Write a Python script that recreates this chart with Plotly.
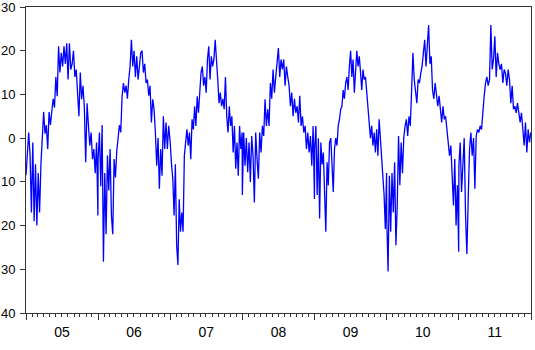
import numpy as np
import pandas as pd
import plotly.graph_objects as go

years = [2005, 2006, 2007, 2008, 2009, 2010, 2011]
year_labels = ["05", "06", "07", "08", "09", "10", "11"]

y_tick_values = [-40, -30, -20, -10, 0, 10, 20, 30]
y_tick_text = ["40", "30", "20", "10", "0", "10", "20", "30"]

t2005 = [-8.5, -3, 1.3, -4, -17, -1, -19, -6, -20, -8, -17, -6, -1, 6, 1, 3, -2.5, 6, 3, 6.6,
         9, 7, 14, 9.6, 21, 15, 19.5, 16.4, 21, 17, 21.7, 13.4, 21.7, 15.7, 17, 20, 14, 15.7, 8.9, 5,
         15, 8.9, 12, 7, -5.5, 8, 3, -1.7, 1.3, -4.8, -2.5, -8, -1, -17.7]
t2006 = [-4.8, 1.3, -11, 3, -28.3, -8, -22, -4, -12, -2.5, -17.7, -22, -4.8, -9, -3, 0, 3, 1.3, 9.6, 12.6,
         10.4, 12, 9, 13.4, 16.4, 22.5, 16.4, 20, 14, 18.7, 13.4, 16.4, 19.5, 20, 15, 17, 12.6, 13.4, 9.7, 12,
         3.6, 8.9, 6.6, 1.3, -6.3, 0, -11.6, -2.5, -8.6, 5, -2.5, 3.6, -2.5, 2.8, 0]
t2007 = [-1, -6, -9.3, -17.7, -6, -24.5, -29, -14, -21.4, -17, -21.4, -4, 0, 2, -1.7, 1.3, -4.8, 4.3, 2, 7.3,
         2.8, 9.6, 5.8, 11, 15, 16.4, 12, 14, 10.4, 18, 21, 13.4, 18.7, 16.4, 18, 22.5, 16.4, 13.4, 8, 10.4,
         7.3, 9, 6.6, 14, 5, 1.3, 7.3, 2.8, 5, -3.3, 2.8, -7, -1, -8.6, 2.8, -2.5, 1.3]
t2008 = [-13, 1.3, -6.3, 0, -7.8, -1, -10, 0.5, -4, -14.7, 1.3, -4.8, -9.3, 1.3, -3.3, 2.8, 0.5, 8.9, 2.8, 6.6,
         2.8, 12.6, 9, 15.7, 10.4, 14, 18, 20.6, 14, 18, 15.7, 18, 12, 16.4, 14, 12, 7.3, 10.4, 5, 9,
         5.8, 7.3, 3.6, 9.7, 2.8, 5, 1.3, 2.8, -2.5, 1.3, -3.3, 0.5, -6.3, 2.8, -13.9]
t2009 = [-2.5, 2.8, -13, 0, -18.4, -1, -6, -3.3, -13.9, -21.4, -5.5, -10.8, -1, 0, -6, -12.3, -2.5, 0, -1.7, 2.8,
         4.3, 6.6, 7.3, 11, 9, 12.6, 14, 11, 16.4, 20, 14, 18, 10.4, 17, 20, 16.4, 18.7, 15, 11, 15.7,
         13.4, 14, 10.4, 7.3, 3.6, 0, 2.8, -1.7, 1.3, -3.3, 2, -4, 4.3, 0, -5.5, -8, -13, -20.8, -8]
t2010 = [-18.4, -30.5, -8.6, -21.4, -8, -17, -5.5, -24.5, -15.4, 0.5, -10.8, -1, -8, 0, 2.8, 4.3, 0.5, 5, 2.8, 9.7,
         19.5, 13.4, 11, 8, 13.4, 12.6, 14.8, 16.4, 19.5, 22.5, 16.4, 21, 25.9, 17, 18.7, 11, 9, 12.6, 10.4, 7.3,
         9.7, 5.8, 3.6, 7.3, 4.3, 5, 1.3, -1, -4, -1.7, -9.3, -15.4, -4.8, -20, -10.8, -26]
t2011 = [-6.3, -1, -12.3, -4.8, 0, -17.7, -26.5, -13.9, -2.5, 1.3, -4, 0, -11.6, 0.5, 2, 1.3, 2.8, 2, 6.6, 9.7,
         12.6, 14, 12, 13.4, 25.9, 15.7, 18, 23.3, 14, 19.5, 17, 15.7, 17, 12.6, 15.7, 14.8, 12, 15.7, 13.4, 8,
         12, 6.6, 7.3, 5.8, 8, 5, 3.6, 5.8, 1.3, -1.7, 3.6, -3.3, 2, -1, 1.3]

series = [t2005, t2006, t2007, t2008, t2009, t2010, t2011]

dates = []
values = []
for yr, vals in zip(years, series):
    start = pd.Timestamp(f"{yr}-01-01")
    end = pd.Timestamp(f"{yr}-12-31")
    d = pd.to_datetime(np.linspace(start.value, end.value, len(vals)))
    dates.extend(d)
    values.extend(vals)

x_range = ["2005-01-01", "2012-01-01"]
year_starts = [f"{y}-01-01" for y in years] + ["2012-01-01"]
mid_years = [f"{y}-07-02" for y in years]

fig = go.Figure()
fig.add_trace(go.Scatter(x=dates, y=values, mode="lines",
                         line=dict(color="#0000FF", width=1.3), showlegend=False))
# invisible trace to activate overlay axis
fig.add_trace(go.Scatter(x=[dates[0]], y=[values[0]], xaxis="x2", mode="lines",
                         line=dict(width=0), showlegend=False, hoverinfo="skip"))

xfont = dict(family="Liberation Sans, Arial, sans-serif", size=14, color="#000000")
yfont = dict(family="Liberation Sans, Arial, sans-serif", size=13, color="#000000")

fig.update_layout(
    width=535, height=350,
    margin=dict(l=26, r=4, t=7, b=37),
    paper_bgcolor="white", plot_bgcolor="white",
    font=xfont,
    xaxis=dict(
        type="date", range=x_range, automargin=False,
        tickvals=year_starts, ticktext=[""] * len(year_starts),
        ticks="outside", ticklen=6, tickcolor="#333333", tickwidth=1,
        minor=dict(dtick="M1", ticks="outside", ticklen=3, tickcolor="#333333", tickwidth=1, showgrid=False),
        showgrid=False, zeroline=False,
        showline=True, linecolor="#333333", linewidth=1, mirror=True,
    ),
    xaxis2=dict(
        type="date", range=x_range, overlaying="x", side="bottom", automargin=False,
        tickvals=mid_years, ticktext=year_labels,
        ticks="", showgrid=False, zeroline=False, showline=False,
        tickfont=xfont, ticklabelstandoff=9,
    ),
    yaxis=dict(
        range=[-40, 30], tickvals=y_tick_values, ticktext=y_tick_text, automargin=False,
        ticks="outside", ticklen=5, tickcolor="#333333", tickwidth=1,
        ticklabelstandoff=2, ticklabeloverflow="allow",
        showgrid=False, zeroline=False,
        showline=True, linecolor="#333333", linewidth=1, mirror=True,
        tickfont=yfont,
    ),
)

fig.write_html("out.html")
